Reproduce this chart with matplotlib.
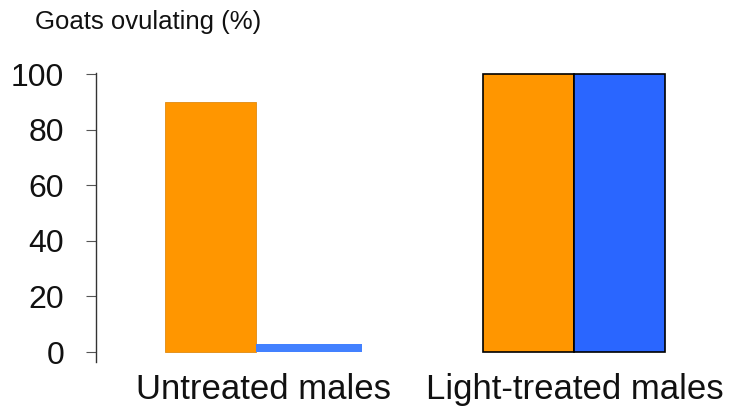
import matplotlib.pyplot as plt

plt.rcParams['font.family'] = ['Liberation Sans', 'DejaVu Sans']

groups = ['Untreated males', 'Light-treated males']
does_with_untreated = [90, 100]   # orange bars
does_with_treated = [3, 100]      # blue bars
y_ticks = [0, 20, 40, 60, 80, 100]

W, H = 747, 418
fig = plt.figure(figsize=(W / 100, H / 100), dpi=100)
# axes placed in pixel terms: y axis at x=96, value 100 at y=74, value 0 at y=352
y0_px, y100_px = 352, 74
per_unit = (y0_px - y100_px) / 100.0
bottom_px = 362
ymin = -(bottom_px - y0_px) / per_unit
ax = fig.add_axes([96 / W, (H - bottom_px) / H, (W - 96) / W, (bottom_px - y100_px + 1) / H])
ax.set_ylim(ymin, 100 + 1 / per_unit)

cat_px = [255.5, 574]
unit = cat_px[1] - cat_px[0]
ax.set_xlim((96 - cat_px[0]) / unit, (W - cat_px[0]) / unit)

x = [0, 1]
orange_w = [0.283, 0.286]
blue_w = [0.333, 0.286]
orange_edge = ['#E08A10', 'black']
blue_edge = ['#4A85FF', 'black']
for i in x:
    ax.bar(i - orange_w[i], does_with_untreated[i], width=orange_w[i], align='edge',
           color='#FF9600', edgecolor=orange_edge[i], linewidth=1.2 if i else 0.6, zorder=2)
    ax.bar(i, does_with_treated[i], width=blue_w[i], align='edge',
           color='#4381FF' if i == 0 else '#2A66FF', edgecolor=blue_edge[i],
           linewidth=1.2 if i else 0, zorder=2)

for s in ['top', 'right', 'bottom']:
    ax.spines[s].set_visible(False)
ax.spines['left'].set_linewidth(1.0)
ax.spines['left'].set_color('#333333')

ax.set_yticks(y_ticks)
ax.set_yticklabels([str(v) for v in y_ticks], fontsize=23, color='#111111')
ax.tick_params(axis='y', length=7, width=0.8, color='#555555', pad=16)

ax.set_xticks([0.026, 1.003])
ax.set_xticklabels(groups, fontsize=25, color='#111111')
ax.tick_params(axis='x', length=0, pad=8)

fig.text(35 / W, 1 - 22 / H, 'Goats ovulating (%)', fontsize=18.5, va='center', ha='left',
         color='#111111')

fig.savefig('out.png', dpi=100)
